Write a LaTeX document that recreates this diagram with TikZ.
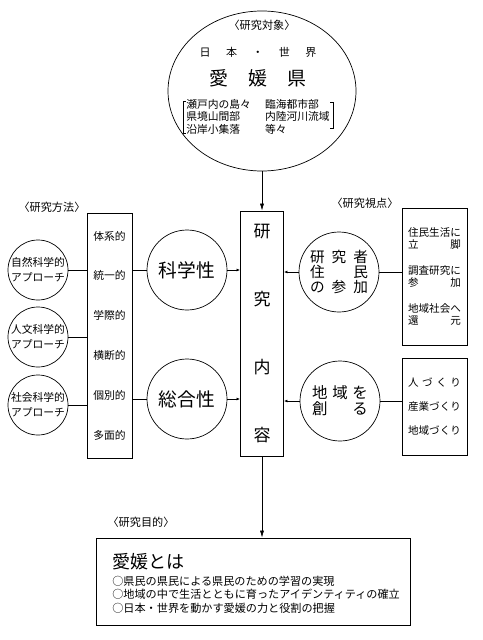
\documentclass[tikz,border=0pt]{standalone}
\usepackage{fontspec}
\setmainfont{Noto Sans CJK JP}
\usetikzlibrary{arrows.meta,shapes.geometric}
\newcommand{\jspread}[2]{\makebox[#1][s]{#2}}

\begin{document}
\begin{tikzpicture}[x=0.03cm,y=-0.03cm,>={Latex[length=6pt,width=3.5pt]},line width=0.6pt,
  bigcirc/.style={draw,circle,minimum size=2.4cm,inner sep=0pt,align=center,font=\fontsize{16}{18}\selectfont},
  smallcirc/.style={draw,circle,minimum size=1.8cm,inner sep=0pt,align=center,font=\fontsize{9.2}{13}\selectfont},
  tallbox/.style={draw,minimum height=7.35cm,inner sep=0pt,align=center},
  listbox/.style={draw,minimum width=1.95cm,inner sep=0pt,align=left,font=\fontsize{9}{10.7}\selectfont},
  tag/.style={inner sep=0pt,font=\fontsize{9.5}{11}\selectfont},
  plain/.style={inner sep=0pt},
  feed/.style={-{Latex[length=3pt,width=2.4pt]}}]
\useasboundingbox (0,0) rectangle (483,640);
% research object
\node[draw,ellipse,minimum width=5.64cm,minimum height=4.8cm] (target) at (262,91) {};
\node[tag] (targettag) at (262,25) {〈研究対象〉};
\node[plain,font=\fontsize{9.4}{11}\selectfont] (world) at (258,52) {\jspread{10.6em}{日 本 ・ 世 界}};
\node[plain,font=\fontsize{16.2}{18}\selectfont] (ehime) at (258,78) {\jspread{5.1em}{愛 媛 県}};
\node[plain,font=\fontsize{9.2}{10.2}\selectfont] (areas) at (258,118)
  {\begin{tabular}{@{}l@{\hspace{12pt}}l@{}}瀬戸内の島々&臨海都市部\\県境山間部&内陸河川流域\\沿岸小集落&等々\end{tabular}};
\draw (186,101) -| (183,133) -- (186,133);
\draw (330,102) -| (333,128) -- (330,128);
% research content
\node[tallbox,minimum width=1.29cm,font=\fontsize{14.5}{58}\selectfont] (content) at (262,333.5) {研\\究\\内\\容};
\draw[->] (target) -- (content);
% research method
\node[tag] (methodtag) at (52,207) {〈研究方法〉};
\node[tallbox,minimum width=1.35cm,font=\fontsize{9.2}{34}\selectfont] (method) at (109.5,335.5) {体系的\\統一的\\学際的\\横断的\\個別的\\多面的};
\node[smallcirc] (natural) at (38,270) {自然科学的\\アプローチ};
\node[smallcirc] (human) at (38,337) {人文科学的\\アプローチ};
\node[smallcirc] (social) at (38,405) {社会科学的\\アプローチ};
\foreach \c in {natural,human,social} \draw (\c) -- (\c -| method.west);
\node[bigcirc] (science) at (187,270) {科学性};
\node[bigcirc] (synth) at (187,399) {総合性};
\draw (method.east |- science) -- (science);
\draw (method.east |- synth) -- (synth);
\draw[feed] (science) -- (science -| content.west);
\draw[feed] (synth) -- (synth -| content.west);
% research viewpoint
\node[tag] (viewtag) at (365,203) {〈研究視点〉};
\node[bigcirc,font=\fontsize{12.5}{12.8}\selectfont] (join) at (339,272)
  {\jspread{3.95em}{研 究 者}\\\jspread{3.95em}{住 民}\\\jspread{3.95em}{の 参 加}};
\node[bigcirc,font=\fontsize{13.2}{13.5}\selectfont] (create) at (340,401)
  {\jspread{3.6em}{地 域 を}\\\jspread{3.6em}{創 る}};
\draw[feed] (join) -- (join -| content.east);
\draw[feed] (create) -- (create -| content.east);
\node[listbox,minimum height=4.11cm] (views) at (434.5,276.5)
  {住民生活に\\立　　　脚\\[11pt]調査研究に\\参　　　加\\[11pt]地域社会へ\\還　　　元};
\node[listbox,minimum height=2.91cm,font=\fontsize{9}{20.5}\selectfont] (makes) at (434.5,406.5)
  {\jspread{5em}{人 づ く り}\\産業づくり\\地域づくり};
\draw (join) -- (join -| views.west);
\draw (create) -- (create -| makes.west);
% research purpose
\node[tag] (purposetag) at (141,522) {〈研究目的〉};
\node[draw,minimum width=9.42cm,minimum height=2.61cm] (purpose) at (253,581.5) {};
\draw[->] (content) -- (content |- purpose.north);
\node[plain,anchor=west,font=\fontsize{15.4}{18}\selectfont] (ehimeis) at (112,562) {愛媛とは};
\node[plain,anchor=west,align=left,font=\fontsize{9.5}{11.5}\selectfont] (aims) at (112,594.5)
  {○県民の県民による県民のための学習の実現\\○地域の中で生活とともに育ったアイデンティティの確立\\○日本・世界を動かす愛媛の力と役割の把握};
\end{tikzpicture}
\end{document}
